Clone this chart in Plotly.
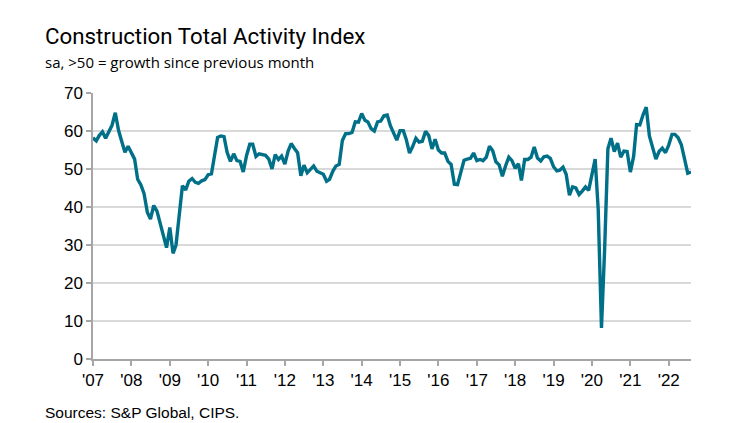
import pandas as pd
import plotly.graph_objects as go

# Monthly index values, Jan 2007 - Aug 2022
v2007 = [58.2, 57.4, 58.8, 59.8, 58.1, 59.8, 61.5, 64.8, 60.2, 57.3, 54.4, 56.0]
v2008 = [54.2, 52.6, 47.3, 45.8, 43.5, 38.6, 36.8, 40.4, 38.9, 35.5, 32.0, 29.3]
v2009 = [34.6, 27.8, 30.0, 37.5, 45.6, 44.5, 46.8, 47.5, 46.5, 46.2, 46.9, 47.2]
v2010 = [48.5, 48.7, 53.5, 58.3, 58.7, 58.5, 54.3, 52.0, 54.0, 52.2, 52.0, 49.2]
v2011 = [53.5, 56.5, 56.5, 53.3, 54.0, 53.8, 53.6, 52.6, 50.0, 53.8, 52.5, 53.4]
v2012 = [51.3, 54.7, 56.7, 55.4, 54.3, 48.2, 51.0, 49.0, 50.0, 50.8, 49.4, 48.9]
v2013 = [48.6, 46.8, 47.3, 49.4, 50.8, 51.2, 57.5, 59.3, 59.3, 59.6, 62.4, 62.3]
v2014 = [64.6, 62.8, 62.4, 60.6, 60.0, 62.4, 62.6, 64.0, 64.2, 61.4, 59.4, 57.6]
v2015 = [60.1, 60.1, 57.8, 54.2, 55.9, 58.1, 57.1, 57.3, 59.9, 58.8, 55.3, 57.8]
v2016 = [55.0, 54.2, 54.2, 52.0, 51.2, 46.0, 45.9, 49.2, 52.3, 52.6, 52.8, 54.2]
v2017 = [52.2, 52.5, 52.2, 53.1, 56.0, 54.8, 51.9, 51.1, 48.1, 50.8, 53.1, 52.2]
v2018 = [50.2, 51.4, 47.0, 52.5, 52.5, 53.1, 55.8, 52.9, 52.1, 53.2, 53.4, 52.8]
v2019 = [50.6, 49.5, 49.7, 50.5, 48.6, 43.1, 45.3, 45.0, 43.3, 44.2, 45.3, 44.4]
v2020 = [48.4, 52.6, 39.3, 8.2, 28.9, 55.3, 58.1, 54.6, 56.8, 53.1, 54.7, 54.6]
v2021 = [49.2, 53.3, 61.7, 61.6, 64.2, 66.3, 58.7, 55.2, 52.6, 54.6, 55.5, 54.3]
v2022 = [56.3, 59.1, 59.1, 58.2, 56.4, 52.6, 48.9, 49.2]

values = (v2007 + v2008 + v2009 + v2010 + v2011 + v2012 + v2013 + v2014 +
          v2015 + v2016 + v2017 + v2018 + v2019 + v2020 + v2021 + v2022)
dates = pd.date_range("2007-01-01", periods=len(values), freq="MS")

tick_years = list(range(2007, 2023))
tick_vals = [f"{y}-01-01" for y in tick_years]
tick_text = [f"'{str(y)[2:]}" for y in tick_years]
y_ticks = [0, 10, 20, 30, 40, 50, 60, 70]

title = "Construction Total Activity Index"
subtitle = "sa, >50 = growth since previous month"
source = "Sources: S&P Global, CIPS."

line_color = "#007089"
axis_color = "#a6a6a6"
grid_color = "#d9d9d9"

fig = go.Figure()
fig.add_trace(go.Scatter(
    x=dates, y=values, mode="lines",
    line=dict(color=line_color, width=3.4),
    hoverinfo="skip", showlegend=False,
))

W, H = 739, 423
L, R, T, B = 93, 48, 93, 64
plot_h = H - T - B
plot_w = W - L - R

def px_to_paper_y(py):
    return (H - B - py) / plot_h

def px_to_paper_x(px):
    return (px - L) / plot_w

tick_font = dict(size=17, family="Liberation Sans, Arial, sans-serif", color="#000000")

fig.update_layout(
    width=W, height=H,
    margin=dict(l=L, r=R, t=T, b=B),
    paper_bgcolor="white", plot_bgcolor="white",
    font=dict(family="Liberation Sans, Arial, sans-serif", color="#000000"),
    xaxis=dict(
        type="date",
        range=["2007-01-01", "2022-08-01"],
        tickmode="array", tickvals=tick_vals, ticktext=tick_text,
        ticks="outside", ticklen=5, tickwidth=1.5, tickcolor=axis_color,
        showline=True, linecolor=axis_color, linewidth=1.5,
        showgrid=False, zeroline=False,
        tickfont=tick_font,
    ),
    yaxis=dict(
        range=[0, 70],
        tickmode="array", tickvals=y_ticks,
        ticks="outside", ticklen=5, tickwidth=1.5, tickcolor=axis_color,
        showline=True, linecolor=axis_color, linewidth=1.5,
        showgrid=True, gridcolor=grid_color, gridwidth=2,
        zeroline=False,
        tickfont=tick_font,
    ),
    annotations=[
        dict(text=title, xref="paper", yref="paper",
             x=px_to_paper_x(43), y=px_to_paper_y(36),
             xanchor="left", yanchor="middle", showarrow=False,
             font=dict(size=22.3, family="Roboto, sans-serif", color="#000000")),
        dict(text=subtitle, xref="paper", yref="paper",
             x=px_to_paper_x(43), y=px_to_paper_y(62),
             xanchor="left", yanchor="middle", showarrow=False,
             font=dict(size=15, family="Open Sans, sans-serif", color="#000000")),
        dict(text=source, xref="paper", yref="paper",
             x=px_to_paper_x(43), y=px_to_paper_y(412),
             xanchor="left", yanchor="middle", showarrow=False,
             font=dict(size=15.5, family="Liberation Sans, Arial, sans-serif", color="#000000")),
    ],
)

fig.write_html("out.html")
